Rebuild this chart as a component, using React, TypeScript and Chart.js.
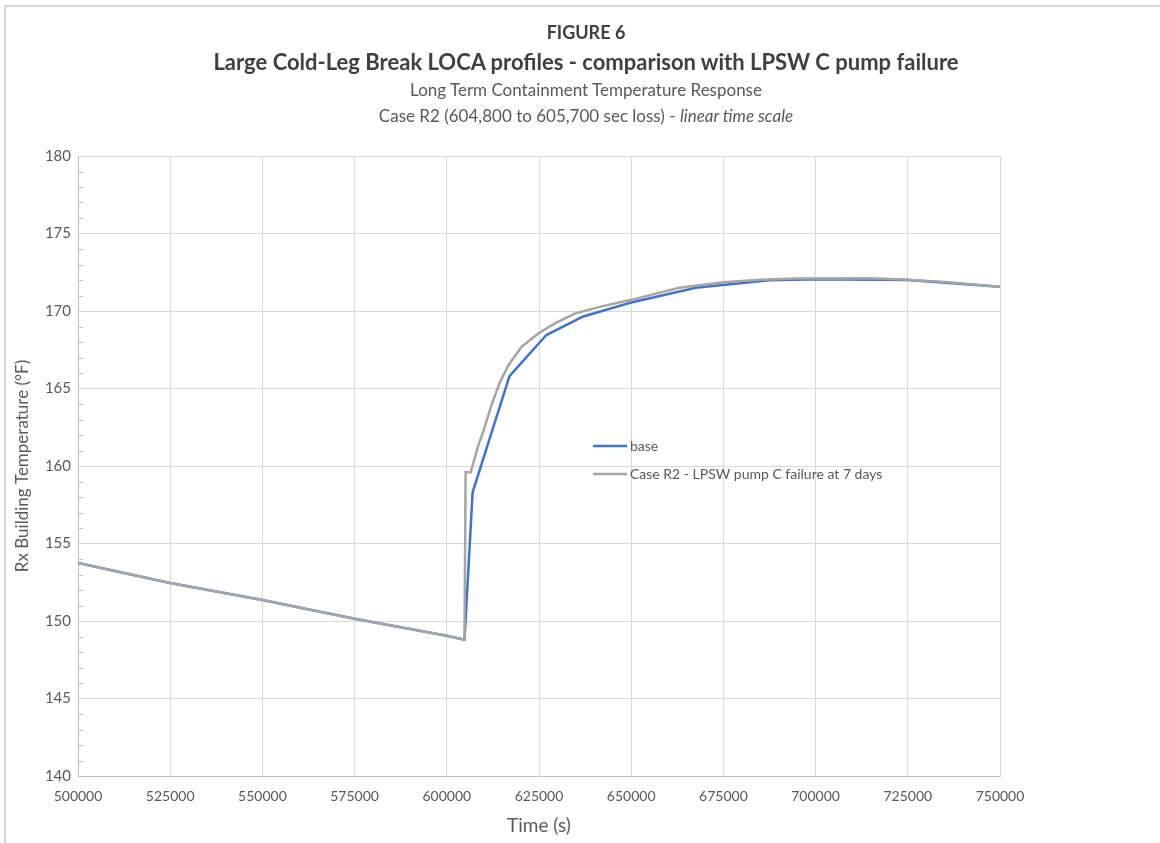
import React, { useEffect, useRef } from "react";
import { Chart, registerables } from "chart.js";

Chart.register(...registerables);

// ---- Data ----
const baseTime = [500000, 525000, 550000, 575000, 600000, 604800, 607000, 617000, 627000, 637000, 650000, 667500, 687500, 700000, 725000, 750000];
const baseTemp = [153.75, 152.45, 151.35, 150.15, 149.05, 148.8, 158.3, 165.8, 168.45, 169.65, 170.55, 171.5, 171.98, 172.05, 172.0, 171.57];

const caseTime = [500000, 525000, 550000, 575000, 600000, 604800, 605100, 606500, 608500, 610000, 612200, 614400, 616700, 620300, 624800, 629300, 634800, 642000, 650000, 663000, 675000, 685000, 695000, 715000, 725000, 736000, 750000];
const caseTemp = [153.75, 152.45, 151.35, 150.15, 149.05, 148.8, 159.6, 159.6, 161.3, 162.3, 164.0, 165.4, 166.5, 167.7, 168.55, 169.2, 169.85, 170.3, 170.72, 171.5, 171.85, 172.02, 172.1, 172.12, 172.02, 171.85, 171.57];

const seriesNames = ["base", "Case R2 - LPSW pump C failure at 7 days"];
const seriesColors = ["#4472C4", "#A5A5A5"];

const titleLines = [
  "FIGURE 6",
  "Large Cold-Leg Break LOCA profiles - comparison with LPSW C pump failure",
  "Long Term Containment Temperature Response",
];
const subtitleMain = "Case R2 (604,800 to 605,700 sec loss) - ";
const subtitleItalic = "linear time scale";

const xMin = 500000;
const xMax = 750000;
const xStep = 25000;
const yMin = 140;
const yMax = 180;
const yStep = 5;

const xTitle = "Time (s)";
const yTitle = "Rx Building Temperature (°F)";

const FONT = "Lato, 'Open Sans', sans-serif";

const toPoints = (xs: number[], ys: number[]) => xs.map((x, i) => ({ x, y: ys[i] }));

const minorTicks = {
  id: "minorTicks",
  afterDatasetsDraw(chart: any) {
    const { ctx, chartArea, scales } = chart;
    const y = scales.y;
    ctx.save();
    ctx.strokeStyle = "#BFBFBF";
    ctx.lineWidth = 1;
    for (let v = yMin + 1; v < yMax; v++) {
      if (v % yStep === 0) continue;
      const py = Math.round(y.getPixelForValue(v)) + 0.5;
      ctx.beginPath();
      ctx.moveTo(chartArea.left, py);
      ctx.lineTo(chartArea.left + 5, py);
      ctx.stroke();
    }
    ctx.restore();
  },
};

const inlineLegend = {
  id: "inlineLegend",
  afterDraw(chart: any) {
    const { ctx } = chart;
    const x0 = 593;
    const rows = [446, 474];
    ctx.save();
    ctx.font = `14px ${FONT}`;
    ctx.textBaseline = "middle";
    ctx.textAlign = "left";
    rows.forEach((ry, i) => {
      ctx.strokeStyle = seriesColors[i];
      ctx.lineWidth = 2.5;
      ctx.beginPath();
      ctx.moveTo(x0, ry);
      ctx.lineTo(x0 + 34, ry);
      ctx.stroke();
      ctx.fillStyle = "#595959";
      ctx.fillText(seriesNames[i], x0 + 37, ry);
    });
    ctx.restore();
  },
};

export default function App() {
  const canvasRef = useRef<HTMLCanvasElement | null>(null);

  useEffect(() => {
    if (!canvasRef.current) return;
    const chart = new Chart(canvasRef.current, {
      type: "line",
      data: {
        datasets: [
          {
            label: seriesNames[0],
            data: toPoints(baseTime, baseTemp),
            borderColor: seriesColors[0],
            backgroundColor: seriesColors[0],
            borderWidth: 2.5,
            pointRadius: 0,
            tension: 0,
            order: 1,
          },
          {
            label: seriesNames[1],
            data: toPoints(caseTime, caseTemp),
            borderColor: seriesColors[1],
            backgroundColor: seriesColors[1],
            borderWidth: 2.5,
            pointRadius: 0,
            tension: 0,
            order: 0,
          },
        ],
      },
      options: {
        animation: false,
        responsive: false,
        devicePixelRatio: 1,
        layout: { padding: { left: 0, top: 156, right: 160, bottom: 0 } },
        plugins: {
          legend: { display: false },
          tooltip: { enabled: false },
          title: { display: false },
        },
        scales: {
          x: {
            type: "linear",
            min: xMin,
            max: xMax,
            afterFit: (s: any) => {
              s.height = 67;
            },
            afterBuildTicks: (s: any) => {
              const t = [];
              for (let v = xMin; v <= xMax; v += xStep) t.push({ value: v });
              s.ticks = t;
            },
            ticks: {
              stepSize: xStep,
              color: "#595959",
              font: { family: FONT, size: 14 },
              padding: 12,
              maxRotation: 0,
              callback: (v: any) => String(v),
            },
            grid: { color: "#D9D9D9", lineWidth: 1, drawTicks: false },
            border: { color: "#BFBFBF", width: 1 },
            title: {
              display: true,
              text: xTitle,
              color: "#595959",
              font: { family: FONT, size: 19 },
              padding: { top: 0, bottom: 6 },
            },
          },
          y: {
            type: "linear",
            min: yMin,
            max: yMax,
            afterFit: (s: any) => {
              s.width = 78;
            },
            ticks: {
              stepSize: yStep,
              color: "#595959",
              font: { family: FONT, size: 15 },
              padding: 7,
            },
            grid: { color: "#D9D9D9", lineWidth: 1, drawTicks: false },
            border: { color: "#BFBFBF", width: 1 },
            title: {
              display: true,
              text: yTitle,
              color: "#595959",
              font: { family: FONT, size: 17 },
              padding: { top: 12, bottom: 0 },
            },
          },
        },
      },
      plugins: [minorTicks, inlineLegend],
    });
    return () => chart.destroy();
  }, []);

  const center = 586;
  const lineStyle = (top: number, size: number, bold: boolean, color: string): React.CSSProperties => ({
    position: "absolute",
    top: top - size * 0.6,
    left: center - 550,
    width: 1100,
    textAlign: "center",
    fontFamily: FONT,
    fontSize: size,
    lineHeight: `${size * 1.2}px`,
    fontWeight: bold ? 700 : 400,
    color,
    whiteSpace: "nowrap",
  });

  return (
    <div
      style={{
        position: "fixed",
        top: 0,
        left: 0,
        width: 1160,
        height: 843,
        background: "#FFFFFF",
        overflow: "hidden",
      }}
    >
      <canvas
        ref={canvasRef}
        width={1160}
        height={843}
        style={{ position: "absolute", top: 0, left: 0, width: 1160, height: 843 }}
      />
      <div
        style={{
          position: "absolute",
          top: 5,
          left: 4,
          width: 1200,
          height: 900,
          borderTop: "2px solid #D9D9D9",
          borderLeft: "2px solid #D9D9D9",
          pointerEvents: "none",
        }}
      />
      <div style={lineStyle(33, 18, true, "#404040")}>{titleLines[0]}</div>
      <div style={lineStyle(62, 22, true, "#404040")}>{titleLines[1]}</div>
      <div style={lineStyle(90, 17, false, "#595959")}>{titleLines[2]}</div>
      <div style={lineStyle(116, 17, false, "#595959")}>
        {subtitleMain}
        <i>{subtitleItalic}</i>
      </div>
    </div>
  );
}
